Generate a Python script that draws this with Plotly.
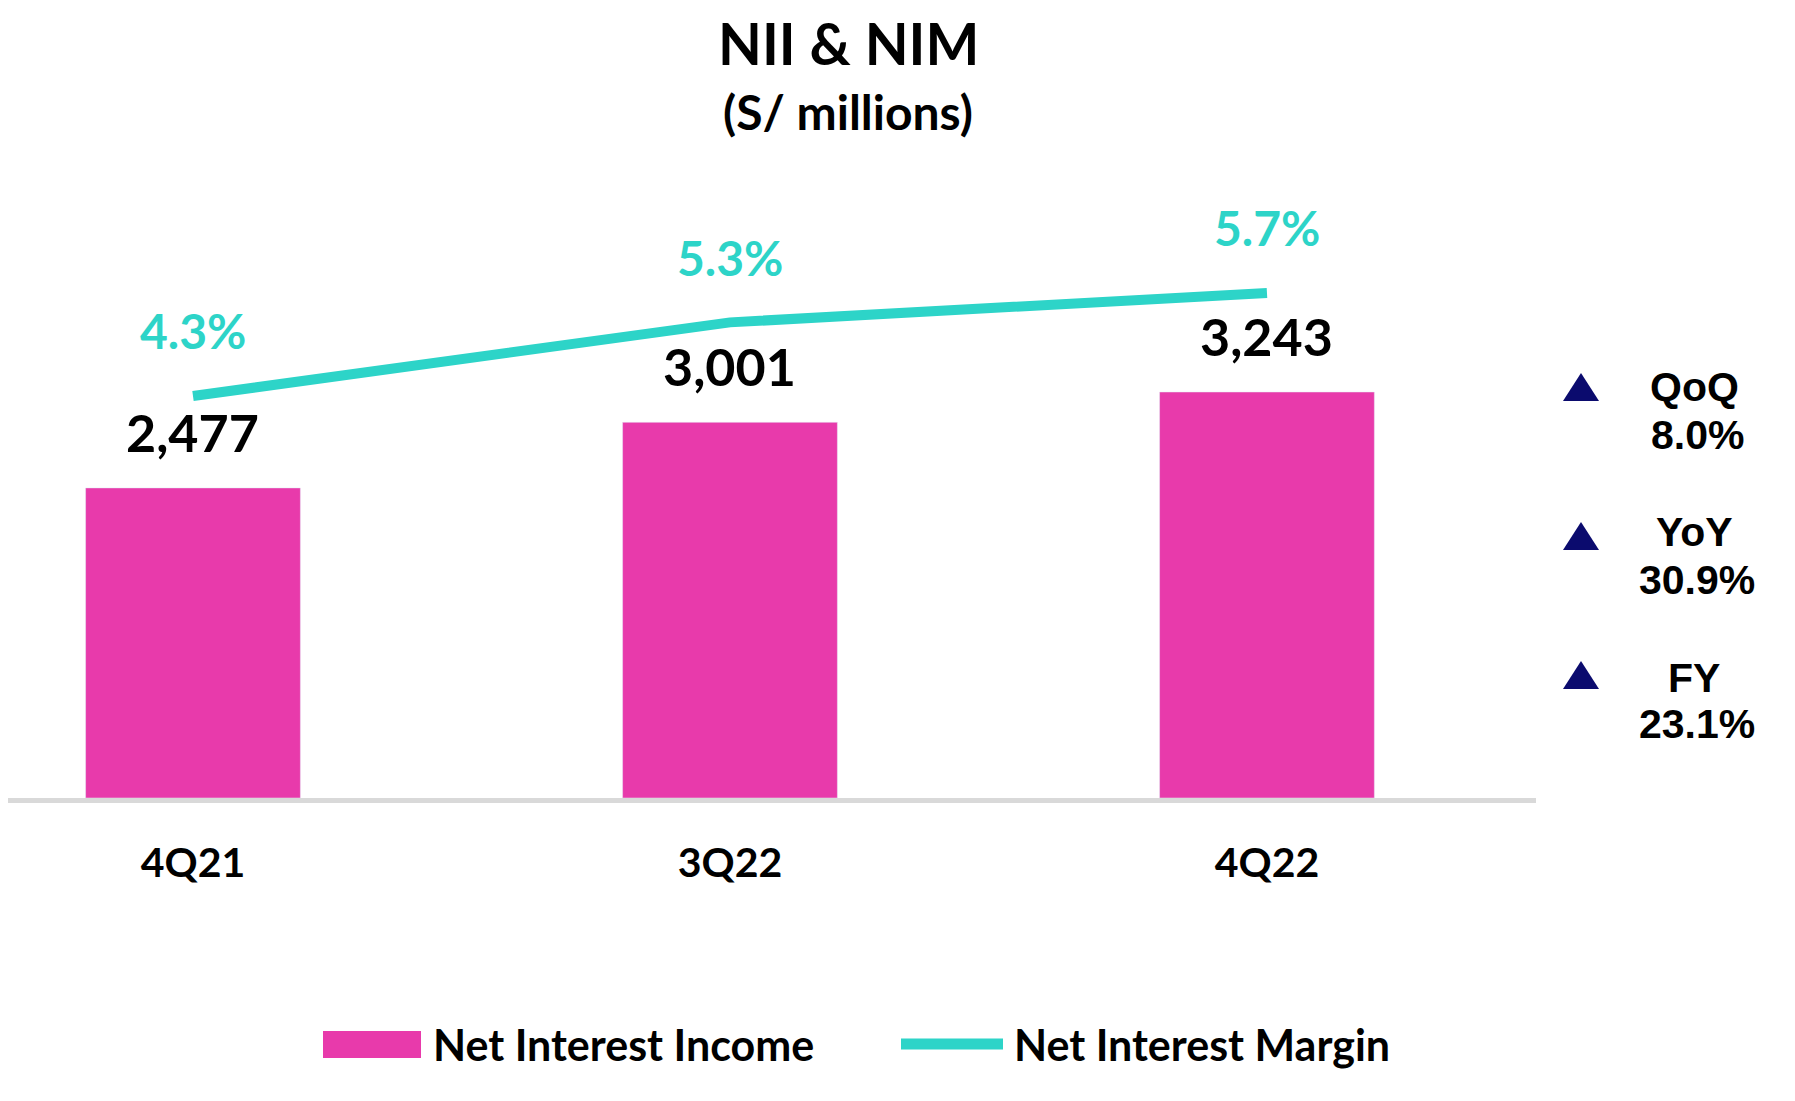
import plotly.graph_objects as go

# data
quarters = ["4Q21", "3Q22", "4Q22"]
nii = [2477, 3001, 3243]          # S/ millions
nim = [4.3, 5.3, 5.7]             # %
change_labels = ["QoQ", "YoY", "FY"]
change_values = ["8.0%", "30.9%", "23.1%"]

PINK = "#E83AAB"
TEAL = "#2DD4C8"
NAVY = "#0B0B6E"

# page has an 8px body margin, so the figure is a bit smaller than the window
FIG_W, FIG_H = 1779, 1085
OFF = 8
PW, PH, BASE = 1528.0, 648.0, 798.0


def px_x(p):
    # page pixel -> paper x
    return (p - OFF) / PW


def px_y(p):
    # page pixel -> paper y
    return (BASE - p) / PH


fig = go.Figure()

fig.add_trace(go.Bar(
    x=quarters, y=nii, name="Net Interest Income",
    marker_color=PINK, width=0.4, yaxis="y", showlegend=False,
))
fig.add_trace(go.Scatter(
    x=quarters, y=nim, name="Net Interest Margin",
    mode="lines", line=dict(color=TEAL, width=10), yaxis="y2", showlegend=False,
))

annotations = []

# value labels above bars
for q, v in zip(quarters, nii):
    annotations.append(dict(
        x=q, y=v, xref="x", yref="y", text=f"{v:,}", showarrow=False,
        xanchor="center", yanchor="middle", yshift=56,
        font=dict(family="Lato", size=52, color="black", weight="bold"),
    ))

# margin labels above the line
for q, v in zip(quarters, nim):
    annotations.append(dict(
        x=q, y=v, xref="x", yref="y2", text=f"{v:.1f}%", showarrow=False,
        xanchor="center", yanchor="middle", yshift=65,
        font=dict(family="Lato", size=48, color=TEAL, weight="bold"),
    ))

# title
annotations.append(dict(
    x=px_x(848), y=px_y(43), xref="paper", yref="paper", text="NII & NIM",
    xanchor="center", yanchor="middle", showarrow=False,
    font=dict(family="Lato", size=57, color="black", weight="bold"),
))
annotations.append(dict(
    x=px_x(848), y=px_y(111), xref="paper", yref="paper", text="(S/ millions)",
    xanchor="center", yanchor="middle", showarrow=False,
    font=dict(family="Lato", size=48, color="black", weight="bold"),
))

# growth indicators on the right
shapes = []
tri_y = [387, 536, 675]
name_y = [387, 532, 678]
val_y = [435, 580, 724]
for i, (lab, val) in enumerate(zip(change_labels, change_values)):
    cy = tri_y[i]
    x0, x1, xm = px_x(1563), px_x(1599), px_x(1581)
    ytop, ybot = px_y(cy - 14), px_y(cy + 14)
    shapes.append(dict(
        type="path", xref="paper", yref="paper",
        path=f"M {x0} {ybot} L {x1} {ybot} L {xm} {ytop} Z",
        fillcolor=NAVY, line=dict(width=0),
    ))
    annotations.append(dict(
        x=px_x(1694), y=px_y(name_y[i]), xref="paper", yref="paper", text=lab,
        xanchor="center", yanchor="middle", showarrow=False,
        font=dict(family="Liberation Sans", size=41, color="black", weight="bold"),
    ))
    annotations.append(dict(
        x=px_x(1697), y=px_y(val_y[i]), xref="paper", yref="paper", text=val,
        xanchor="center", yanchor="middle", showarrow=False,
        font=dict(family="Liberation Sans", size=41, color="black", weight="bold"),
    ))

# legend drawn by hand
shapes.append(dict(
    type="rect", xref="paper", yref="paper",
    x0=px_x(323), x1=px_x(421), y0=px_y(1058), y1=px_y(1031),
    fillcolor=PINK, line=dict(width=0),
))
shapes.append(dict(
    type="line", xref="paper", yref="paper",
    x0=px_x(901), x1=px_x(1003), y0=px_y(1044), y1=px_y(1044),
    line=dict(color=TEAL, width=11),
))
annotations.append(dict(
    x=px_x(431), y=px_y(1044), xref="paper", yref="paper", text="Net Interest Income",
    xanchor="left", yanchor="middle", showarrow=False,
    font=dict(family="Lato", size=43, color="black", weight="bold"),
))
annotations.append(dict(
    x=px_x(1012), y=px_y(1044), xref="paper", yref="paper", text="Net Interest Margin",
    xanchor="left", yanchor="middle", showarrow=False,
    font=dict(family="Lato", size=43, color="black", weight="bold"),
))

fig.update_layout(
    width=FIG_W, height=FIG_H,
    margin=dict(l=0, r=FIG_W - int(PW), t=int(150 - OFF), b=FIG_H - int(BASE - OFF)),
    paper_bgcolor="white", plot_bgcolor="white",
    xaxis=dict(
        range=[-0.3445, 2.501], showgrid=False, zeroline=False,
        showline=True, linecolor="#D9D9D9", linewidth=5,
        ticks="outside", ticklen=25, tickcolor="rgba(0,0,0,0)",
        tickfont=dict(family="Lato", size=41, color="black", weight="bold"),
    ),
    yaxis=dict(range=[0, 5176], visible=False, showgrid=False),
    yaxis2=dict(range=[-1.162, 7.642], overlaying="y", visible=False, showgrid=False),
    annotations=annotations,
    shapes=shapes,
    showlegend=False,
)

fig.write_html("out.html")
